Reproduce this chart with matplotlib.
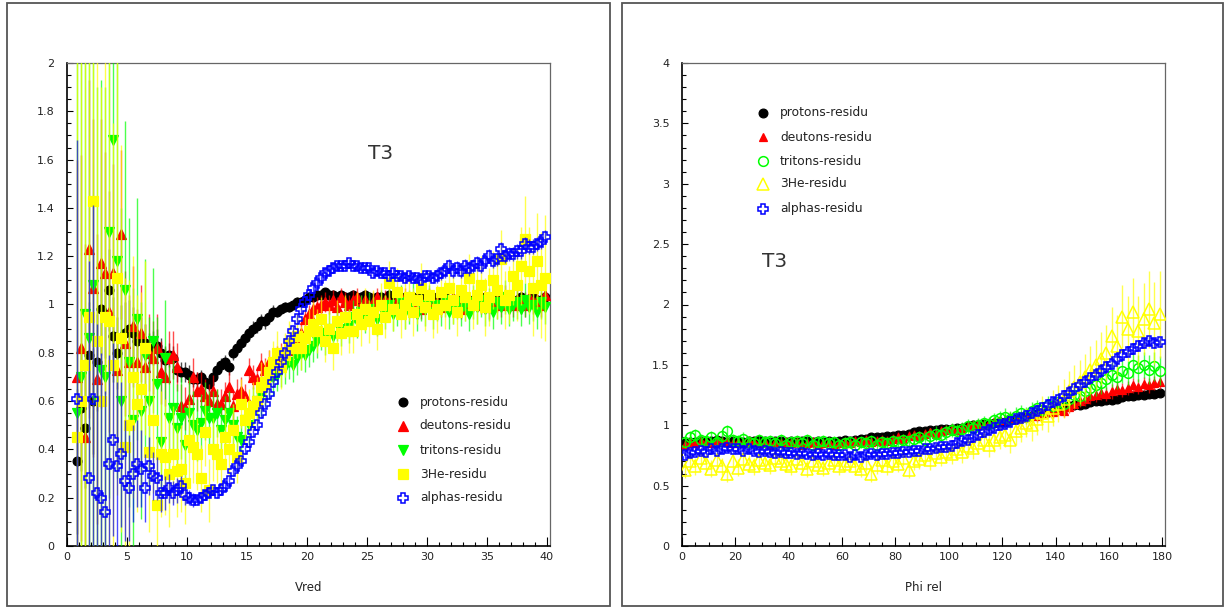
import numpy as np
import matplotlib
matplotlib.use("Agg")
import matplotlib.pyplot as plt
from matplotlib.patches import Rectangle
from matplotlib.ticker import MultipleLocator, FormatStrFormatter

plt.rcParams['font.family'] = ['DejaVu Sans']

# ---- left panel : residu vs Vred (bins of 1/3) ----
vred_x = (np.arange(2, 120) + 0.5) / 3.0

vred_protons = [
    0.35, 0.57, 0.49, 0.79, 0.60, 0.76, 0.98, 0.96, 1.06, 0.87,
    0.80, 0.86, 0.88, 0.90, 0.88, 0.85, 0.86, 0.84, 0.80, 0.82,
    0.83, 0.80, 0.77, 0.79, 0.78, 0.73, 0.72, 0.72, 0.71, 0.69,
    0.69, 0.70, 0.68, 0.67, 0.70, 0.73, 0.75, 0.76, 0.74, 0.80,
    0.82, 0.84, 0.86, 0.88, 0.90, 0.91, 0.93, 0.93, 0.95, 0.97,
    0.97, 0.98, 0.99, 0.99, 1.00, 1.01, 1.01, 1.02, 1.03, 1.03,
    1.04, 1.04, 1.05, 1.04, 1.04, 1.03, 1.04, 1.03, 1.03, 1.04,
    1.02, 1.03, 1.04, 1.03, 1.02, 1.03, 1.03, 1.02, 1.04, 1.03,
    1.02, 1.03, 1.02, 1.02, 1.03, 1.02, 1.03, 1.02, 1.02, 1.03,
    1.01, 1.02, 1.03, 1.02, 1.02, 1.01, 1.02, 1.03, 1.02, 1.01,
    1.02, 1.02, 1.03, 1.02, 1.01, 1.02, 1.03, 1.02, 1.02, 1.01,
    1.02, 1.03, 1.02, 1.02, 1.03, 1.02, 1.02, 1.03]
vred_protons_err = [
    0.30, 0.26, 0.25, 0.22, 0.22, 0.20, 0.19, 0.18, 0.17, 0.16,
    0.15, 0.14, 0.13, 0.12, 0.11, 0.10, 0.09, 0.08, 0.08, 0.07,
    0.07, 0.06, 0.06, 0.05, 0.05, 0.05, 0.04, 0.04, 0.04, 0.03,
    0.03, 0.03, 0.03, 0.03, 0.03, 0.03, 0.03, 0.03, 0.03, 0.03,
    0.03, 0.03, 0.03, 0.03, 0.03, 0.03, 0.03, 0.03, 0.03, 0.03,
    0.02, 0.02, 0.02, 0.02, 0.02, 0.02, 0.02, 0.02, 0.02, 0.02,
    0.02, 0.02, 0.02, 0.02, 0.02, 0.02, 0.02, 0.02, 0.02, 0.02,
    0.02, 0.02, 0.02, 0.02, 0.02, 0.02, 0.02, 0.02, 0.02, 0.02,
    0.02, 0.02, 0.02, 0.02, 0.02, 0.02, 0.02, 0.02, 0.02, 0.02,
    0.02, 0.02, 0.02, 0.02, 0.02, 0.02, 0.02, 0.02, 0.02, 0.02,
    0.02, 0.02, 0.02, 0.02, 0.02, 0.02, 0.02, 0.02, 0.02, 0.02,
    0.02, 0.02, 0.02, 0.02, 0.02, 0.02, 0.02, 0.02]

vred_deutons = [
    0.70, 0.82, 0.45, 1.23, 1.07, 0.69, 1.17, 1.13, 0.97, 1.13,
    0.73, 1.29, 0.84, 0.76, 0.91, 0.76, 0.88, 0.74, 0.80, 0.78,
    0.82, 0.72, 0.70, 0.78, 0.79, 0.74, 0.58, 0.57, 0.61, 0.70,
    0.64, 0.65, 0.62, 0.60, 0.64, 0.59, 0.59, 0.62, 0.66, 0.58,
    0.63, 0.64, 0.62, 0.73, 0.70, 0.69, 0.75, 0.73, 0.76, 0.75,
    0.78, 0.79, 0.80, 0.81, 0.84, 0.86, 0.88, 0.94, 0.96, 0.98,
    0.99, 1.00, 1.01, 1.00, 1.02, 0.99, 1.03, 1.01, 1.00, 1.02,
    1.03, 1.00, 1.02, 0.99, 1.01, 1.03, 1.00, 1.02, 1.01, 0.99,
    1.02, 1.00, 1.03, 1.01, 1.00, 1.02, 0.98, 1.01, 1.03, 1.00,
    1.01, 0.99, 1.02, 1.00, 1.03, 1.01, 0.98, 1.02, 1.00, 1.01,
    1.03, 1.00, 1.02, 0.99, 1.01, 1.02, 1.00, 1.03, 1.01, 1.00,
    1.02, 1.01, 1.00, 1.03, 1.01, 1.02, 1.00, 1.04]
vred_deutons_err = [
    0.90, 0.80, 0.80, 0.70, 0.70, 0.60, 0.60, 0.50, 0.50, 0.45,
    0.40, 0.35, 0.30, 0.28, 0.25, 0.22, 0.20, 0.18, 0.16, 0.15,
    0.14, 0.13, 0.12, 0.11, 0.10, 0.10, 0.09, 0.09, 0.08, 0.08,
    0.08, 0.07, 0.07, 0.07, 0.07, 0.06, 0.06, 0.06, 0.06, 0.06,
    0.06, 0.06, 0.05, 0.05, 0.05, 0.05, 0.05, 0.05, 0.05, 0.05,
    0.05, 0.05, 0.05, 0.04, 0.04, 0.04, 0.04, 0.04, 0.04, 0.04,
    0.04, 0.04, 0.04, 0.04, 0.04, 0.04, 0.04, 0.04, 0.04, 0.04,
    0.04, 0.04, 0.04, 0.04, 0.04, 0.04, 0.04, 0.04, 0.04, 0.04,
    0.04, 0.04, 0.04, 0.04, 0.04, 0.04, 0.04, 0.04, 0.04, 0.04,
    0.04, 0.04, 0.04, 0.04, 0.04, 0.04, 0.04, 0.04, 0.04, 0.04,
    0.04, 0.04, 0.05, 0.05, 0.05, 0.05, 0.05, 0.05, 0.05, 0.05,
    0.05, 0.05, 0.05, 0.05, 0.05, 0.05, 0.05, 0.05]

vred_tritons = [
    0.55, 0.70, 0.96, 0.86, 1.08, 0.60, 0.73, 0.70, 1.30, 1.68,
    1.18, 0.60, 1.06, 0.76, 0.52, 0.94, 0.56, 0.79, 0.60, 0.85,
    0.67, 0.43, 0.78, 0.53, 0.57, 0.49, 0.53, 0.42, 0.55, 0.50,
    0.48, 0.51, 0.56, 0.53, 0.53, 0.55, 0.48, 0.52, 0.55, 0.50,
    0.45, 0.44, 0.52, 0.50, 0.58, 0.60, 0.62, 0.66, 0.69, 0.70,
    0.71, 0.73, 0.74, 0.76, 0.75, 0.78, 0.80, 0.79, 0.81, 0.83,
    0.85, 0.88, 0.86, 0.90, 0.87, 0.92, 0.90, 0.94, 0.91, 0.95,
    0.93, 0.97, 0.95, 0.98, 0.96, 0.94, 0.99, 0.97, 1.00, 0.96,
    0.98, 1.01, 0.97, 0.99, 1.02, 0.96, 1.00, 0.98, 1.01, 0.97,
    1.00, 0.98, 1.02, 0.97, 0.99, 1.01, 0.98, 1.00, 0.96, 1.01,
    0.99, 1.02, 0.98, 1.00, 0.97, 1.01, 0.99, 1.03, 0.98, 1.00,
    1.01, 0.98, 1.02, 0.99, 1.00, 0.97, 1.01, 0.99]
vred_tritons_err = [
    1.50, 1.50, 1.40, 1.40, 1.30, 1.30, 1.20, 1.20, 1.10, 1.00,
    0.90, 0.80, 0.70, 0.60, 0.55, 0.50, 0.45, 0.40, 0.35, 0.30,
    0.28, 0.26, 0.24, 0.22, 0.20, 0.18, 0.17, 0.16, 0.15, 0.14,
    0.13, 0.12, 0.12, 0.11, 0.11, 0.10, 0.10, 0.10, 0.09, 0.09,
    0.09, 0.09, 0.08, 0.08, 0.08, 0.08, 0.08, 0.08, 0.08, 0.08,
    0.07, 0.07, 0.07, 0.07, 0.07, 0.07, 0.07, 0.07, 0.07, 0.07,
    0.07, 0.07, 0.07, 0.07, 0.07, 0.07, 0.07, 0.07, 0.07, 0.07,
    0.07, 0.07, 0.07, 0.07, 0.07, 0.07, 0.07, 0.07, 0.07, 0.07,
    0.07, 0.07, 0.07, 0.07, 0.07, 0.07, 0.07, 0.07, 0.07, 0.07,
    0.07, 0.07, 0.07, 0.07, 0.07, 0.07, 0.07, 0.07, 0.07, 0.07,
    0.07, 0.07, 0.07, 0.07, 0.07, 0.07, 0.07, 0.07, 0.07, 0.07,
    0.07, 0.07, 0.07, 0.07, 0.07, 0.07, 0.07, 0.07]

vred_he3 = [
    0.45, 0.60, 0.75, 0.95, 1.43, 0.85, 0.60, 0.95, 0.93, 0.75,
    1.11, 0.86, 0.41, 0.50, 0.70, 0.59, 0.65, 0.82, 0.39, 0.52,
    0.17, 0.38, 0.37, 0.30, 0.38, 0.31, 0.32, 0.26, 0.44, 0.41,
    0.38, 0.28, 0.47, 0.23, 0.40, 0.38, 0.34, 0.45, 0.40, 0.48,
    0.37, 0.59, 0.52, 0.55, 0.58, 0.60, 0.66, 0.68, 0.72, 0.76,
    0.80, 0.74, 0.79, 0.84, 0.82, 0.87, 0.82, 0.86, 0.89, 0.92,
    0.89, 0.94, 0.85, 0.90, 0.82, 0.93, 0.88, 0.95, 0.89, 0.89,
    0.96, 0.92, 0.98, 0.93, 0.97, 0.90, 1.00, 0.95, 1.09, 0.98,
    1.05, 0.96, 1.00, 1.03, 0.97, 1.02, 1.07, 0.99, 1.04, 0.96,
    0.98, 1.05, 1.00, 1.07, 1.02, 0.97, 1.06, 1.03, 1.11, 1.00,
    1.04, 1.08, 0.99, 1.03, 1.10, 1.06, 1.19, 1.02, 1.04, 1.12,
    1.08, 1.16, 1.27, 1.14, 1.07, 1.18, 1.08, 1.11]
vred_he3_err = [
    2.00, 1.80, 1.80, 1.60, 1.50, 1.40, 1.30, 1.20, 1.10, 1.00,
    0.90, 0.80, 0.70, 0.60, 0.50, 0.45, 0.40, 0.36, 0.33, 0.30,
    0.28, 0.26, 0.24, 0.22, 0.20, 0.19, 0.18, 0.17, 0.16, 0.15,
    0.15, 0.14, 0.14, 0.13, 0.13, 0.12, 0.12, 0.12, 0.11, 0.11,
    0.11, 0.10, 0.10, 0.10, 0.10, 0.10, 0.10, 0.09, 0.09, 0.09,
    0.09, 0.09, 0.09, 0.09, 0.09, 0.09, 0.09, 0.09, 0.09, 0.09,
    0.09, 0.09, 0.09, 0.09, 0.09, 0.09, 0.09, 0.09, 0.09, 0.09,
    0.09, 0.09, 0.09, 0.09, 0.09, 0.09, 0.09, 0.09, 0.09, 0.09,
    0.10, 0.10, 0.10, 0.10, 0.10, 0.10, 0.10, 0.10, 0.10, 0.10,
    0.10, 0.10, 0.10, 0.10, 0.10, 0.10, 0.10, 0.10, 0.10, 0.10,
    0.12, 0.12, 0.12, 0.12, 0.12, 0.12, 0.12, 0.12, 0.12, 0.12,
    0.15, 0.16, 0.18, 0.18, 0.20, 0.20, 0.22, 0.26]

vred_alphas = [
    0.61, np.nan, np.nan, 0.28, 0.61, 0.22, 0.20, 0.14, 0.34, 0.44,
    0.33, 0.38, 0.27, 0.24, 0.30, 0.34, 0.32, 0.24, 0.33, 0.29,
    0.28, 0.22, 0.22, 0.24, 0.22, 0.23, 0.25, 0.21, 0.20, 0.19,
    0.19, 0.20, 0.21, 0.22, 0.23, 0.22, 0.23, 0.25, 0.27, 0.31,
    0.33, 0.35, 0.40, 0.43, 0.47, 0.50, 0.55, 0.59, 0.63, 0.68,
    0.72, 0.76, 0.80, 0.85, 0.89, 0.94, 0.98, 1.01, 1.04, 1.07,
    1.09, 1.11, 1.13, 1.14, 1.15, 1.16, 1.16, 1.16, 1.17, 1.16,
    1.16, 1.15, 1.15, 1.15, 1.13, 1.14, 1.13, 1.13, 1.12, 1.13,
    1.12, 1.12, 1.11, 1.12, 1.11, 1.11, 1.10, 1.12, 1.12, 1.11,
    1.12, 1.13, 1.14, 1.16, 1.14, 1.15, 1.14, 1.16, 1.15, 1.16,
    1.17, 1.16, 1.18, 1.20, 1.18, 1.19, 1.23, 1.20, 1.21, 1.21,
    1.22, 1.22, 1.25, 1.24, 1.24, 1.25, 1.26, 1.28]
vred_alphas_err = [
    1.07, np.nan, np.nan, 0.90, 0.80, 0.70, 0.60, 0.50, 0.45, 0.40,
    0.35, 0.30, 0.25, 0.22, 0.20, 0.18, 0.16, 0.14, 0.12, 0.10,
    0.09, 0.08, 0.07, 0.06, 0.05, 0.05, 0.04, 0.04, 0.03, 0.03,
    0.02, 0.02, 0.02, 0.02, 0.02, 0.02, 0.02, 0.02, 0.02, 0.02,
    0.02, 0.02, 0.02, 0.02, 0.02, 0.02, 0.02, 0.02, 0.02, 0.02,
    0.02, 0.02, 0.02, 0.02, 0.02, 0.02, 0.02, 0.02, 0.02, 0.02,
    0.02, 0.02, 0.02, 0.02, 0.02, 0.02, 0.02, 0.02, 0.02, 0.02,
    0.02, 0.02, 0.02, 0.02, 0.02, 0.02, 0.02, 0.02, 0.02, 0.02,
    0.02, 0.02, 0.02, 0.02, 0.02, 0.02, 0.02, 0.02, 0.02, 0.02,
    0.03, 0.03, 0.03, 0.03, 0.03, 0.03, 0.03, 0.03, 0.03, 0.03,
    0.03, 0.03, 0.03, 0.03, 0.03, 0.03, 0.03, 0.03, 0.03, 0.03,
    0.03, 0.03, 0.03, 0.03, 0.03, 0.03, 0.03, 0.03]

# ---- right panel : residu vs Phi rel (bins of 2 deg) ----
phi_x = np.arange(90) * 2.0 + 1.0

phi_protons = [
    0.85, 0.86, 0.86, 0.87, 0.86, 0.87, 0.88, 0.87, 0.86, 0.87,
    0.87, 0.86, 0.87, 0.87, 0.88, 0.87, 0.86, 0.87, 0.87, 0.86,
    0.87, 0.86, 0.87, 0.87, 0.86, 0.87, 0.86, 0.87, 0.86, 0.87,
    0.88, 0.87, 0.88, 0.89, 0.89, 0.90, 0.90, 0.90, 0.91, 0.91,
    0.92, 0.92, 0.93, 0.94, 0.95, 0.95, 0.96, 0.96, 0.97, 0.97,
    0.97, 0.98, 0.98, 0.99, 1.00, 1.00, 1.01, 1.01, 1.02, 1.03,
    1.03, 1.04, 1.05, 1.06, 1.07, 1.08, 1.09, 1.10, 1.11, 1.13,
    1.14, 1.15, 1.16, 1.17, 1.17, 1.18, 1.19, 1.20, 1.20, 1.21,
    1.21, 1.22, 1.23, 1.24, 1.24, 1.25, 1.25, 1.26, 1.26, 1.27]
phi_protons_err = [
    0.02, 0.02, 0.02, 0.02, 0.02, 0.02, 0.02, 0.02, 0.02, 0.02,
    0.02, 0.02, 0.02, 0.02, 0.02, 0.02, 0.02, 0.02, 0.02, 0.02,
    0.02, 0.02, 0.02, 0.02, 0.02, 0.02, 0.02, 0.02, 0.02, 0.02,
    0.02, 0.02, 0.02, 0.02, 0.02, 0.02, 0.02, 0.02, 0.02, 0.02,
    0.02, 0.02, 0.02, 0.02, 0.02, 0.02, 0.02, 0.02, 0.02, 0.02,
    0.02, 0.02, 0.02, 0.02, 0.02, 0.02, 0.02, 0.02, 0.02, 0.02,
    0.02, 0.02, 0.02, 0.02, 0.02, 0.02, 0.02, 0.02, 0.02, 0.02,
    0.03, 0.03, 0.03, 0.03, 0.03, 0.03, 0.03, 0.03, 0.03, 0.03,
    0.03, 0.03, 0.03, 0.03, 0.03, 0.03, 0.03, 0.03, 0.03, 0.03]

phi_deutons = [
    0.84, 0.86, 0.85, 0.87, 0.86, 0.85, 0.88, 0.86, 0.87, 0.85,
    0.86, 0.85, 0.87, 0.86, 0.85, 0.86, 0.84, 0.86, 0.85, 0.86,
    0.85, 0.86, 0.84, 0.85, 0.86, 0.84, 0.85, 0.86, 0.84, 0.85,
    0.86, 0.85, 0.87, 0.86, 0.88, 0.86, 0.87, 0.88, 0.87, 0.89,
    0.90, 0.89, 0.91, 0.92, 0.91, 0.93, 0.94, 0.93, 0.95, 0.96,
    0.97, 0.96, 0.98, 0.99, 1.00, 1.01, 1.00, 1.02, 1.03, 1.04,
    1.04, 1.06, 1.05, 1.07, 1.08, 1.09, 1.08, 1.10, 1.12, 1.11,
    1.13, 1.12, 1.15, 1.18, 1.20, 1.22, 1.24, 1.25, 1.27, 1.26,
    1.28, 1.30, 1.29, 1.31, 1.33, 1.32, 1.34, 1.33, 1.35, 1.36]
phi_deutons_err = [
    0.04, 0.04, 0.04, 0.04, 0.04, 0.04, 0.04, 0.04, 0.04, 0.04,
    0.04, 0.04, 0.04, 0.04, 0.04, 0.04, 0.04, 0.04, 0.04, 0.04,
    0.04, 0.04, 0.04, 0.04, 0.04, 0.04, 0.04, 0.04, 0.04, 0.04,
    0.04, 0.04, 0.04, 0.04, 0.04, 0.04, 0.04, 0.04, 0.04, 0.04,
    0.04, 0.04, 0.04, 0.04, 0.04, 0.04, 0.04, 0.04, 0.04, 0.04,
    0.04, 0.04, 0.04, 0.04, 0.04, 0.04, 0.04, 0.04, 0.04, 0.04,
    0.05, 0.05, 0.05, 0.05, 0.05, 0.05, 0.05, 0.05, 0.05, 0.05,
    0.05, 0.05, 0.05, 0.05, 0.05, 0.06, 0.06, 0.06, 0.06, 0.06,
    0.06, 0.06, 0.06, 0.06, 0.06, 0.06, 0.06, 0.06, 0.06, 0.06]

phi_tritons = [
    0.86, 0.90, 0.92, 0.88, 0.87, 0.90, 0.86, 0.91, 0.95, 0.88,
    0.87, 0.89, 0.86, 0.85, 0.88, 0.86, 0.87, 0.85, 0.88, 0.84,
    0.86, 0.87, 0.85, 0.88, 0.84, 0.86, 0.87, 0.85, 0.86, 0.84,
    0.85, 0.86, 0.84, 0.86, 0.85, 0.87, 0.84, 0.86, 0.85, 0.87,
    0.86, 0.88, 0.87, 0.89, 0.90, 0.88, 0.91, 0.93, 0.92, 0.94,
    0.96, 0.95, 0.97, 0.99, 0.98, 1.00, 1.02, 1.01, 1.04, 1.06,
    1.07, 1.05, 1.08, 1.10, 1.08, 1.12, 1.14, 1.13, 1.17, 1.16,
    1.19, 1.18, 1.22, 1.25, 1.24, 1.28, 1.31, 1.33, 1.35, 1.38,
    1.42, 1.40, 1.45, 1.43, 1.50, 1.47, 1.50, 1.46, 1.49, 1.45]
phi_tritons_err = [
    0.05, 0.05, 0.05, 0.05, 0.05, 0.05, 0.05, 0.05, 0.05, 0.05,
    0.05, 0.05, 0.05, 0.05, 0.05, 0.05, 0.05, 0.05, 0.05, 0.05,
    0.05, 0.05, 0.05, 0.05, 0.05, 0.05, 0.05, 0.05, 0.05, 0.05,
    0.05, 0.05, 0.05, 0.05, 0.05, 0.05, 0.05, 0.05, 0.05, 0.05,
    0.05, 0.05, 0.05, 0.05, 0.05, 0.06, 0.06, 0.06, 0.06, 0.06,
    0.06, 0.06, 0.06, 0.06, 0.06, 0.06, 0.06, 0.06, 0.06, 0.06,
    0.07, 0.07, 0.07, 0.07, 0.07, 0.07, 0.07, 0.07, 0.07, 0.07,
    0.08, 0.08, 0.08, 0.08, 0.08, 0.09, 0.09, 0.09, 0.09, 0.09,
    0.10, 0.10, 0.10, 0.10, 0.11, 0.11, 0.11, 0.12, 0.12, 0.12]

phi_he3 = [
    0.63, 0.70, 0.66, 0.73, 0.69, 0.64, 0.71, 0.66, 0.60, 0.70,
    0.65, 0.72, 0.68, 0.66, 0.71, 0.69, 0.67, 0.73, 0.70, 0.68,
    0.66, 0.72, 0.69, 0.64, 0.70, 0.67, 0.65, 0.69, 0.71, 0.66,
    0.68, 0.70, 0.66, 0.64, 0.69, 0.60, 0.67, 0.71, 0.66, 0.70,
    0.68, 0.73, 0.63, 0.70, 0.72, 0.75, 0.71, 0.77, 0.74, 0.78,
    0.76, 0.80, 0.78, 0.83, 0.81, 0.85, 0.88, 0.84, 0.88, 0.90,
    0.92, 0.88, 0.95, 0.98, 1.02, 1.00, 1.05, 1.10, 1.08, 1.14,
    1.18, 1.22, 1.28, 1.32, 1.36, 1.40, 1.46, 1.50, 1.55, 1.60,
    1.74, 1.66, 1.90, 1.80, 1.94, 1.78, 1.88, 1.96, 1.85, 1.92]
phi_he3_err = [
    0.07, 0.07, 0.07, 0.07, 0.07, 0.07, 0.07, 0.07, 0.07, 0.07,
    0.07, 0.07, 0.07, 0.07, 0.07, 0.07, 0.07, 0.07, 0.07, 0.07,
    0.07, 0.07, 0.07, 0.07, 0.07, 0.07, 0.07, 0.07, 0.07, 0.07,
    0.07, 0.07, 0.07, 0.07, 0.07, 0.07, 0.07, 0.07, 0.07, 0.07,
    0.07, 0.07, 0.07, 0.07, 0.08, 0.08, 0.08, 0.08, 0.08, 0.08,
    0.08, 0.08, 0.09, 0.09, 0.09, 0.09, 0.09, 0.10, 0.10, 0.10,
    0.10, 0.11, 0.11, 0.12, 0.12, 0.13, 0.13, 0.14, 0.14, 0.15,
    0.15, 0.16, 0.17, 0.18, 0.18, 0.19, 0.20, 0.21, 0.22, 0.23,
    0.24, 0.25, 0.26, 0.27, 0.28, 0.29, 0.30, 0.32, 0.34, 0.36]

phi_alphas = [
    0.75, 0.77, 0.78, 0.79, 0.78, 0.80, 0.79, 0.80, 0.81, 0.80,
    0.80, 0.79, 0.80, 0.79, 0.78, 0.79, 0.78, 0.77, 0.78, 0.77,
    0.77, 0.76, 0.77, 0.76, 0.75, 0.76, 0.75, 0.76, 0.75, 0.75,
    0.75, 0.74, 0.75, 0.74, 0.75, 0.76, 0.75, 0.76, 0.76, 0.77,
    0.77, 0.78, 0.78, 0.79, 0.79, 0.80, 0.80, 0.81, 0.82, 0.82,
    0.83, 0.85, 0.87, 0.88, 0.90, 0.92, 0.94, 0.96, 0.98, 1.00,
    1.01, 1.03, 1.05, 1.06, 1.08, 1.10, 1.12, 1.14, 1.17, 1.19,
    1.21, 1.24, 1.27, 1.30, 1.33, 1.36, 1.39, 1.42, 1.45, 1.48,
    1.51, 1.55, 1.58, 1.61, 1.63, 1.66, 1.68, 1.70, 1.68, 1.69]
phi_alphas_err = [
    0.03, 0.03, 0.03, 0.03, 0.03, 0.03, 0.03, 0.03, 0.03, 0.03,
    0.03, 0.03, 0.03, 0.03, 0.03, 0.03, 0.03, 0.03, 0.03, 0.03,
    0.03, 0.03, 0.03, 0.03, 0.03, 0.03, 0.03, 0.03, 0.03, 0.03,
    0.03, 0.03, 0.03, 0.03, 0.03, 0.03, 0.03, 0.03, 0.03, 0.03,
    0.03, 0.03, 0.03, 0.03, 0.03, 0.03, 0.03, 0.03, 0.03, 0.03,
    0.03, 0.03, 0.03, 0.03, 0.03, 0.03, 0.03, 0.03, 0.03, 0.03,
    0.03, 0.03, 0.03, 0.03, 0.03, 0.03, 0.03, 0.03, 0.03, 0.03,
    0.03, 0.03, 0.03, 0.03, 0.03, 0.04, 0.04, 0.04, 0.04, 0.04,
    0.04, 0.04, 0.04, 0.04, 0.04, 0.04, 0.04, 0.04, 0.04, 0.04]

labels = ["protons-residu", "deutons-residu", "tritons-residu",
          "3He-residu", "alphas-residu"]

TXT = '#222222'
BLUE = '#0000ff'
RED = '#ff0000'
GREEN = '#00ff00'
YELLOW = '#ffff00'

# marker style per series: (marker, colour, size, filled)
left_styles = [('o', 'black', 6.3, True), ('^', RED, 6.8, True),
               ('v', GREEN, 6.8, True), ('s', YELLOW, 6.5, True),
               ('P', BLUE, 7.8, False)]
right_styles = [('o', 'black', 6.3, True), ('^', RED, 6.3, True),
                ('o', GREEN, 7.0, False), ('^', YELLOW, 8.2, False),
                ('P', BLUE, 7.8, False)]


def draw_series(ax, x, y, e, style, z):
    marker, color, ms, filled = style
    ax.errorbar(x, y, yerr=e, fmt='none', ecolor=color, elinewidth=1.0,
                alpha=0.7, zorder=z)
    ax.plot(x, y, linestyle='none', marker=marker, markersize=ms,
            markerfacecolor=color if filled else 'none',
            markeredgecolor=color, markeredgewidth=0.9 if filled else 1.1,
            zorder=z + 0.5)


def legend_rows(ax, xm, xt, ys, styles):
    for yy, lab, (marker, color, ms, filled) in zip(ys, labels, styles):
        ax.plot([xm], [yy], linestyle='none', marker=marker, markersize=ms,
                markerfacecolor=color if filled else 'none',
                markeredgecolor=color, markeredgewidth=0.9 if filled else 1.1,
                zorder=20, clip_on=False)
        ax.text(xt, yy, lab, fontsize=8.8, color=TXT, va='center',
                ha='left', zorder=20)


def style_axes(ax):
    ax.tick_params(which='both', direction='in', top=False, right=False,
                   labelsize=8, labelcolor=TXT)
    ax.tick_params(axis='x', which='major', length=6.5, width=0.8, pad=4)
    ax.tick_params(axis='x', which='minor', length=3, width=0.8)
    ax.tick_params(axis='y', which='major', length=4.5, width=0.8, pad=9)
    ax.tick_params(axis='y', which='minor', length=3, width=0.8)
    ax.yaxis.set_major_formatter(FormatStrFormatter('%g'))
    ax.xaxis.set_major_formatter(FormatStrFormatter('%g'))
    for side in ('left', 'bottom'):
        ax.spines[side].set_color('black')
        ax.spines[side].set_linewidth(1.2)
    for side in ('top', 'right'):
        ax.spines[side].set_color('#666666')
        ax.spines[side].set_linewidth(0.9)


fig = plt.figure(figsize=(12.26, 6.08), dpi=100)
fig.patch.set_facecolor('white')

# pad frames
fig.add_artist(Rectangle((7 / 1226, 2 / 608), 603 / 1226, 603 / 608,
                         transform=fig.transFigure, fill=False,
                         edgecolor='#555555', linewidth=1.3))
fig.add_artist(Rectangle((622 / 1226, 2 / 608), 601 / 1226, 603 / 608,
                         transform=fig.transFigure, fill=False,
                         edgecolor='#555555', linewidth=1.3))

ax1 = fig.add_axes([67 / 1226, 62 / 608, 483 / 1226, 483 / 608])
ax2 = fig.add_axes([682 / 1226, 62 / 608, 483 / 1226, 483 / 608])

left_data = [(vred_protons, vred_protons_err), (vred_deutons, vred_deutons_err),
             (vred_tritons, vred_tritons_err), (vred_he3, vred_he3_err),
             (vred_alphas, vred_alphas_err)]
for i, ((y, e), st) in enumerate(zip(left_data, left_styles)):
    draw_series(ax1, vred_x, np.array(y), np.array(e), st, 2 + i)

ax1.set_xlim(0, 40.25)
ax1.set_ylim(0, 2)
ax1.xaxis.set_major_locator(MultipleLocator(5))
ax1.xaxis.set_minor_locator(MultipleLocator(1))
ax1.yaxis.set_major_locator(MultipleLocator(0.2))
ax1.yaxis.set_minor_locator(MultipleLocator(0.05))
style_axes(ax1)
ax1.text(0.5, -0.085, "Vred", transform=ax1.transAxes, ha='center',
         va='center', fontsize=8.5, color=TXT)
ax1.text(26.1, 1.627, "T3", fontsize=14.5, color='#333333', ha='center',
         va='center')
legend_rows(ax1, 28.0, 29.4, [0.596, 0.497, 0.397, 0.298, 0.199],
            left_styles)

right_data = [(phi_protons, phi_protons_err), (phi_deutons, phi_deutons_err),
              (phi_tritons, phi_tritons_err), (phi_he3, phi_he3_err),
              (phi_alphas, phi_alphas_err)]
for i, ((y, e), st) in enumerate(zip(right_data, right_styles)):
    draw_series(ax2, phi_x, np.array(y), np.array(e), st, 2 + i)

ax2.set_xlim(0, 181)
ax2.set_ylim(0, 4)
ax2.xaxis.set_major_locator(MultipleLocator(20))
ax2.xaxis.set_minor_locator(MultipleLocator(5))
ax2.yaxis.set_major_locator(MultipleLocator(0.5))
ax2.yaxis.set_minor_locator(MultipleLocator(0.1))
style_axes(ax2)
ax2.text(0.5, -0.085, "Phi rel", transform=ax2.transAxes, ha='center',
         va='center', fontsize=8.5, color=TXT)
ax2.text(34.8, 2.352, "T3", fontsize=14.5, color='#333333', ha='center',
         va='center')
legend_rows(ax2, 30.4, 36.7, [3.586, 3.387, 3.188, 2.998, 2.791],
            right_styles)

fig.savefig("out.png", dpi=100)
